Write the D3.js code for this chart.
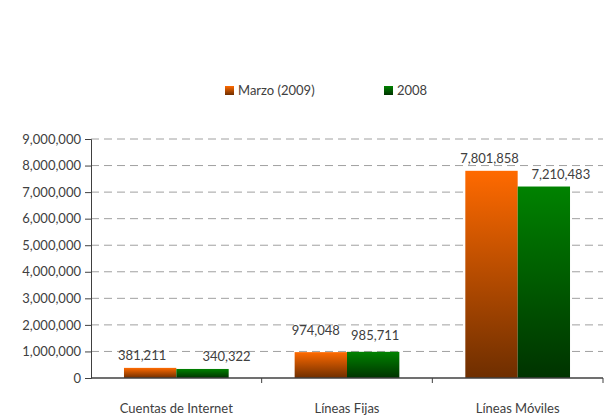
<!DOCTYPE html>
<html lang="es">
<head>
<meta charset="utf-8">
<title>lineas</title>
<script src="https://cdn.jsdelivr.net/npm/d3@7"></script>
<style>
	body{ margin:0; background:#fff; }
	text{ font-family:Lato, "DejaVu Sans", sans-serif; fill:#404040; }
</style>
</head>
<body>
<div id="chart"></div>
<script>
// datos
let categories = ["Cuentas de Internet", "Líneas Fijas", "Líneas Móviles"];
let seriesNames = ["Marzo (2009)", "2008"];
let marzo2009 = [381211, 974048, 7801858];
let anio2008 = [340322, 985711, 7210483];
let yTicks = [0,1000000,2000000,3000000,4000000,5000000,6000000,7000000,8000000,9000000];

let W=604, H=418;
let m={top:139, right:1, bottom:40, left:91};

let svg=d3.select("#chart").append("svg").attr("width",W).attr("height",H);

// gradientes
let defs=svg.append("defs");
let grads=[["gOr","#ff6a00","#6e2e00"],["gGr","#008200","#003300"]];
grads.forEach(g=>{
	let lg=defs.append("linearGradient").attr("id",g[0]).attr("x1",0).attr("y1",0).attr("x2",0).attr("y2",1);
	lg.append("stop").attr("offset","0%").attr("stop-color",g[1]);
	lg.append("stop").attr("offset","100%").attr("stop-color",g[2]);
});

let x=d3.scaleBand().domain(categories).range([m.left,W-m.right]).paddingInner(0).paddingOuter(0);
let xs=d3.scaleBand().domain([0,1]).range([0,x.bandwidth()]).paddingInner(0).paddingOuter(0.63);
let y=d3.scaleLinear().domain([0,9000000]).range([H-m.bottom,m.top]);

// lineas guia
svg.append("g").selectAll("line").data(yTicks.slice(1)).enter().append("line")
	.attr("x1",m.left).attr("x2",W-m.right)
	.attr("y1",d=>y(d)).attr("y2",d=>y(d))
	.attr("stroke","#a0a0a0").attr("stroke-dasharray","8,5");

// eje y
let yAxis=svg.append("g").attr("transform","translate("+m.left+",0)")
	.call(d3.axisLeft(y).tickValues(yTicks).tickSize(6).tickPadding(4).tickFormat(d3.format(",")));
yAxis.selectAll("text").attr("font-size","13px");
yAxis.selectAll("line,path").attr("stroke","#404040");

// barras
let series=[marzo2009,anio2008];
let fills=["url(#gOr)","url(#gGr)"];
series.forEach((s,i)=>{
	svg.append("g").selectAll("rect").data(s).enter().append("rect")
		.attr("x",(d,j)=>x(categories[j])+xs(i))
		.attr("width",xs.bandwidth())
		.attr("y",d=>y(d))
		.attr("height",d=>y(0)-y(d))
		.attr("fill",fills[i]);
});

// etiquetas de valores (desplazamiento para evitar solapes)
let labelDx=[[-8,-5,-2],[24,2,17]];
let labelDy=[[0,-9,0],[0,-4,0]];
series.forEach((s,i)=>{
	svg.append("g").selectAll("text").data(s).enter().append("text")
		.attr("x",(d,j)=>x(categories[j])+xs(i)+xs.bandwidth()/2+labelDx[i][j])
		.attr("y",(d,j)=>y(d)-8+labelDy[i][j])
		.attr("text-anchor","middle").attr("font-size","13px")
		.text(d=>d3.format(",")(d));
});

// eje x
let xAxis=svg.append("g").attr("transform","translate(0,"+(H-m.bottom)+")");
xAxis.append("line").attr("x1",m.left).attr("x2",W-m.right).attr("stroke","#404040").attr("stroke-width",1.5);
xAxis.selectAll(".tk").data(categories).enter().append("line")
	.attr("x1",d=>x(d)+x.bandwidth()).attr("x2",d=>x(d)+x.bandwidth())
	.attr("y1",0).attr("y2",5).attr("stroke","#404040");
xAxis.selectAll("text").data(categories).enter().append("text")
	.attr("x",d=>x(d)+x.bandwidth()/2).attr("y",35)
	.attr("text-anchor","middle").attr("font-size","13px")
	.text(d=>d);

// leyenda
let legX=[225,384];
let leg=svg.append("g");
seriesNames.forEach((n,i)=>{
	leg.append("rect").attr("x",legX[i]).attr("y",86).attr("width",9).attr("height",9).attr("fill",fills[i]);
	leg.append("text").attr("x",legX[i]+13).attr("y",95).attr("font-size","13px").text(n);
});
</script>
</body>
</html>
